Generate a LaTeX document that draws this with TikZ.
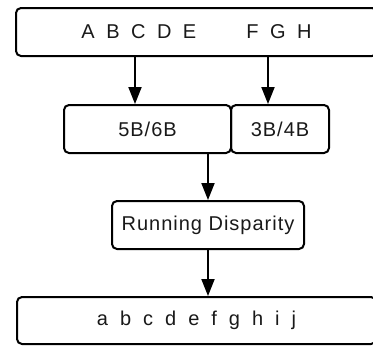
\documentclass[tikz,border=0pt]{standalone}
\usepackage{fontspec}
\setmainfont{Liberation Sans}[LetterSpace=5]
\usetikzlibrary{arrows.meta}
\tikzset{
  box/.style={draw=black, line width=2pt, rounded corners=5pt, inner sep=0pt,
    font={\fontsize{20}{24}\selectfont}, text=black!90},
  arr/.style={line width=2pt, -{Triangle[length=17pt,width=13pt]}}
}
\begin{document}
\begin{tikzpicture}[x=1pt,y=-1pt]
\useasboundingbox (0,0) rectangle (373,346);
\clip (0,0) rectangle (373,346);
\node[box, minimum width=361pt, minimum height=48pt] (top) at (196.5,32) {\spaceskip=11.5pt\relax A B C D E\hspace{50pt}F G H};
\node[box, minimum width=167pt, minimum height=48pt] (b56) at (147.5,129) {5B/6B};
\node[box, minimum width=98pt, minimum height=48pt] (b34) at (280,129) {3B/4B};
\node[box, minimum width=192pt, minimum height=48pt] (rd) at (208,225) {Running Disparity};
\node[box, minimum width=359pt, minimum height=47pt] (bot) at (196.5,320.5) {\spaceskip=12pt\relax a b c d e f g h i j};
\coordinate (c1) at (135,0);
\coordinate (c2) at (268,0);
\draw[arr] (c1 |- top.south) -- (c1 |- b56.north);
\draw[arr] (c2 |- top.south) -- (c2 |- b34.north);
\draw[arr] (b56.south -| rd.north) -- (rd.north);
\draw[arr] (rd.south) -- (bot.north -| rd.south);
\end{tikzpicture}
\end{document}
